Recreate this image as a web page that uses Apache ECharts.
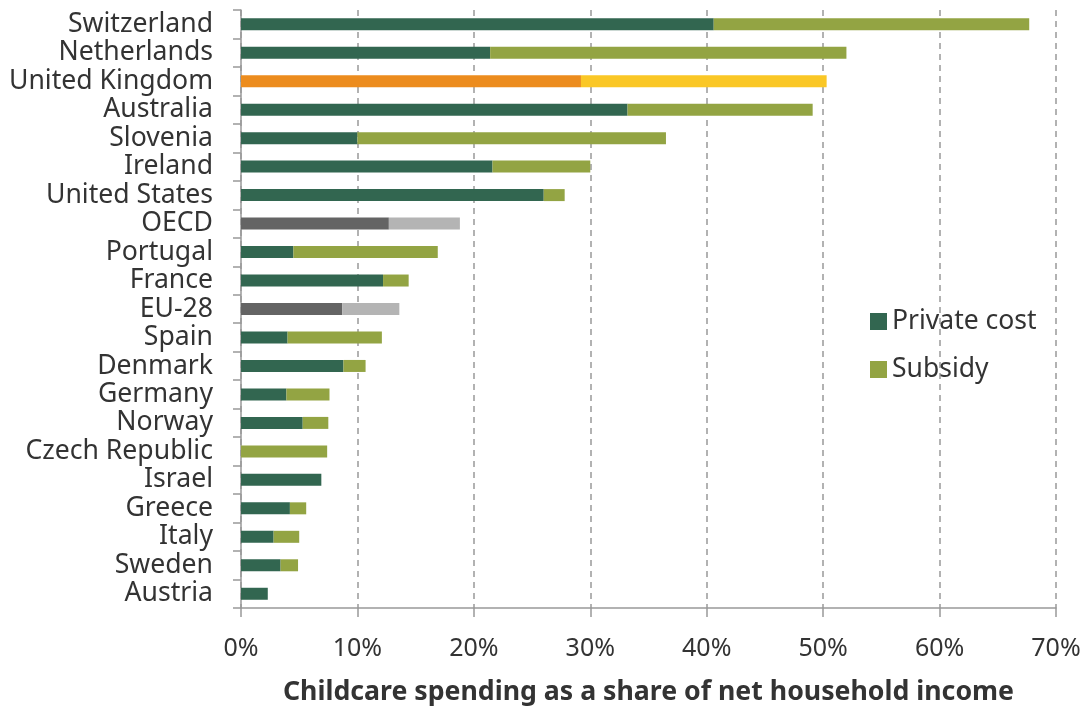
<!DOCTYPE html>
<html>
<head>
<meta charset="utf-8">
<style>
  html, body { margin: 0; padding: 0; background: #fff; }
  #chart { width: 1085px; height: 711px; }
</style>
<script src="https://cdn.jsdelivr.net/npm/echarts@6/dist/echarts.min.js"></script>
</head>
<body>
<div id="chart"></div>
<script>
const countries = [
  'Switzerland', 'Netherlands', 'United Kingdom', 'Australia', 'Slovenia',
  'Ireland', 'United States', 'OECD', 'Portugal', 'France', 'EU-28',
  'Spain', 'Denmark', 'Germany', 'Norway', 'Czech Republic', 'Israel',
  'Greece', 'Italy', 'Sweden', 'Austria'
];
// share of net household income, %
const privateCost = [
  40.6, 21.4, 29.2, 33.2, 10.0, 21.6, 26.0, 12.7, 4.5, 12.2, 8.7,
  4.0, 8.8, 3.9, 5.3, 0, 6.9, 4.2, 2.8, 3.4, 2.3
];
const subsidy = [
  27.1, 30.6, 21.1, 15.9, 26.5, 8.4, 1.8, 6.1, 12.4, 2.2, 4.9,
  8.1, 1.9, 3.7, 2.2, 7.4, 0, 1.4, 2.2, 1.5, 0
];
const xTicks = [0, 10, 20, 30, 40, 50, 60, 70];

// highlighted rows get their own colours
const specialColors = {
  'United Kingdom': ['#ec8c1e', '#fac726'],
  'OECD': ['#646464', '#b4b4b4'],
  'EU-28': ['#646464', '#b4b4b4']
};
const baseColors = ['#326650', '#93a443'];

const toItems = (values, idx) =>
  values.map((v, i) => {
    const c = specialColors[countries[i]];
    return c ? { value: v, itemStyle: { color: c[idx] } } : v;
  });

const chart = echarts.init(document.getElementById('chart'));
const font = 'Noto Sans';

chart.setOption({
  animation: false,
  textStyle: { fontFamily: font },
  color: baseColors,
  grid: { left: 241, right: 29, top: 10, bottom: 101 },
  legend: {
    orient: 'vertical',
    left: 865,
    top: 303,
    itemWidth: 17,
    itemHeight: 17,
    itemGap: 21,
    icon: 'rect',
    textStyle: { fontSize: 26.5, color: '#333', fontFamily: font },
    data: ['Private cost', 'Subsidy']
  },
  xAxis: {
    type: 'value',
    min: xTicks[0],
    max: xTicks[xTicks.length - 1],
    interval: 10,
    name: 'Childcare spending as a share of net household income',
    nameLocation: 'middle',
    nameGap: 71,
    nameTextStyle: { fontSize: 26.7, fontWeight: 'bold', color: '#333', fontFamily: font },
    axisLine: { show: true, lineStyle: { color: '#999', width: 1.5 } },
    axisTick: { show: true, length: 9, lineStyle: { color: '#999', width: 1.5 } },
    axisLabel: {
      fontSize: 25, color: '#333', margin: 28,
      formatter: (v) => v + '%'
    },
    splitLine: {
      show: true,
      lineStyle: { color: '#999', type: [6, 5], width: 1.5 }
    }
  },
  yAxis: {
    type: 'category',
    data: countries,
    inverse: true,
    axisLine: { show: true, lineStyle: { color: '#999', width: 1.5 } },
    axisTick: { show: true, length: 8, lineStyle: { color: '#999', width: 1.5 } },
    axisLabel: { fontSize: 26.6, color: '#333', margin: 28, interval: 0 }
  },
  series: [
    {
      name: 'Private cost',
      type: 'bar',
      stack: 'total',
      barWidth: 12,
      data: toItems(privateCost, 0)
    },
    {
      name: 'Subsidy',
      type: 'bar',
      stack: 'total',
      barWidth: 12,
      data: toItems(subsidy, 1)
    }
  ]
});
</script>
</body>
</html>
